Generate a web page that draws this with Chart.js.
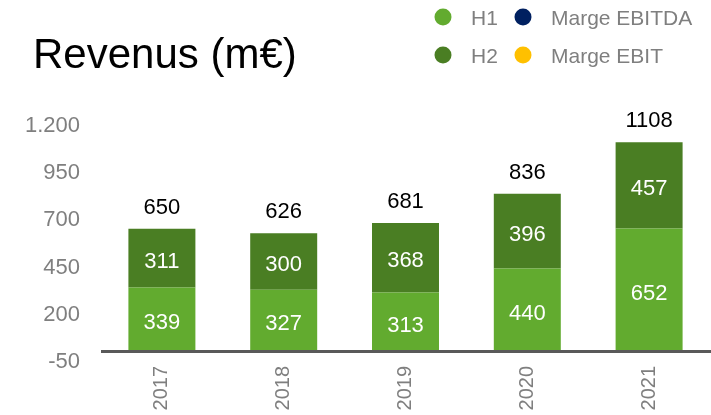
<!DOCTYPE html>
<html>
<head>
<meta charset="utf-8">
<script src="https://cdn.jsdelivr.net/npm/chart.js@4.4.1/dist/chart.umd.min.js"></script>
<style>
  html, body { margin: 0; padding: 0; background: #ffffff; }
  #wrap { width: 711px; height: 415px; position: relative; }
</style>
</head>
<body>
<div id="wrap"><canvas id="c" width="711" height="415"></canvas></div>
<script>
// ---- Data ----
const categories = ['2017', '2018', '2019', '2020', '2021'];
const h1Values = [339, 327, 313, 440, 652];
const h2Values = [311, 300, 368, 396, 457];
const totals = [650, 626, 681, 836, 1108];
const yTicks = [-50, 200, 450, 700, 950, 1200];
const titleText = 'Revenus (m€)';
const legendNames = ['H1', 'Marge EBITDA', 'H2', 'Marge EBIT'];

// ---- Styles ----
const COL_H1 = '#62ab2f';
const COL_H2 = '#4a7e23';
const COL_EBITDA = '#002060';
const COL_EBIT = '#ffc000';
const legendColors = [COL_H1, COL_EBITDA, COL_H2, COL_EBIT];
const FONT = '"Liberation Sans", Arial, sans-serif';
const GRAY = '#7f7f7f';

function fmt(v) {
  return String(v).replace(/\B(?=(\d{3})+(?!\d))/g, '.');
}

const overlay = {
  id: 'overlay',
  afterDatasetsDraw(chart) {
    const ctx = chart.ctx;
    const y = chart.scales.y;
    const area = chart.chartArea;
    // zero axis line
    const y0 = y.getPixelForValue(0);
    ctx.save();
    ctx.strokeStyle = '#595959';
    ctx.lineWidth = 3;
    ctx.beginPath();
    ctx.moveTo(area.left, y0);
    ctx.lineTo(chart.width, y0);
    ctx.stroke();

    // segment labels
    ctx.font = '22px ' + FONT;
    ctx.textAlign = 'center';
    ctx.textBaseline = 'alphabetic';
    [0, 1].forEach(di => {
      const meta = chart.getDatasetMeta(di);
      const data = chart.data.datasets[di].data;
      meta.data.forEach((el, i) => {
        const mid = (el.y + el.base) / 2;
        ctx.fillStyle = '#ffffff';
        ctx.fillText(String(data[i]), el.x, mid + 9.5);
      });
    });
    // totals
    const top = chart.getDatasetMeta(1);
    top.data.forEach((el, i) => {
      ctx.fillStyle = '#000000';
      ctx.fillText(String(totals[i]), el.x, el.y - 15);
    });
    ctx.restore();
  },
  afterDraw(chart) {
    const ctx = chart.ctx;
    ctx.save();
    // title
    ctx.fillStyle = '#000000';
    ctx.font = '42px ' + FONT;
    ctx.textAlign = 'left';
    ctx.textBaseline = 'alphabetic';
    ctx.fillText(titleText, 33, 68);
    // legend (2 x 2 grid)
    const colX = [443, 523];
    const rowY = [17, 55];
    ctx.font = '21px ' + FONT;
    legendNames.forEach((name, i) => {
      const cx = colX[i % 2];
      const cy = rowY[Math.floor(i / 2)];
      ctx.fillStyle = legendColors[i];
      ctx.beginPath();
      ctx.arc(cx, cy, 8.5, 0, Math.PI * 2);
      ctx.fill();
      ctx.fillStyle = GRAY;
      ctx.fillText(name, cx + 28, cy + 7.5);
    });
    ctx.restore();
  }
};

new Chart(document.getElementById('c'), {
  type: 'bar',
  data: {
    labels: categories,
    datasets: [
      { label: 'H1', data: h1Values, backgroundColor: COL_H1, borderWidth: 0 },
      { label: 'H2', data: h2Values, backgroundColor: COL_H2, borderWidth: 0 }
    ]
  },
  options: {
    responsive: false,
    animation: false,
    devicePixelRatio: 1,
    layout: { padding: { top: 125, right: 1, bottom: 0, left: 0 } },
    datasets: { bar: { categoryPercentage: 1.0, barPercentage: 0.55 } },
    plugins: {
      legend: { display: false },
      title: { display: false },
      tooltip: { enabled: false }
    },
    scales: {
      x: {
        stacked: true,
        grid: { display: false, drawTicks: false },
        border: { display: false },
        ticks: {
          color: GRAY,
          font: { family: FONT, size: 20 },
          minRotation: 90,
          maxRotation: 90,
          padding: 5
        },
        afterFit(scale) { scale.height = 54; }
      },
      y: {
        stacked: true,
        min: -50,
        max: 1200,
        grid: { display: false, drawTicks: false },
        border: { display: false },
        ticks: {
          color: GRAY,
          font: { family: FONT, size: 22 },
          padding: 21,
          labelOffset: 1,
          callback: (v) => fmt(v)
        },
        afterBuildTicks(scale) {
          scale.ticks = yTicks.map(v => ({ value: v }));
        },
        afterFit(scale) { scale.width = 101; }
      }
    }
  },
  plugins: [overlay]
});
</script>
</body>
</html>
